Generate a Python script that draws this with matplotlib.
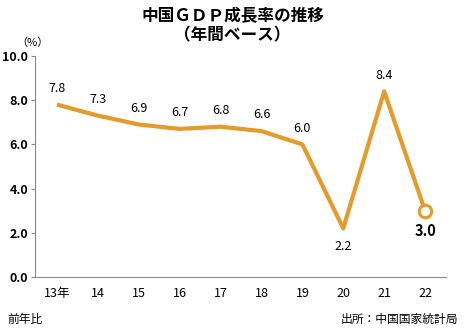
import matplotlib
matplotlib.use("Agg")
import matplotlib.pyplot as plt

plt.rcParams['font.family'] = ['Noto Sans CJK JP', 'DejaVu Sans']

years = ["13年", "14", "15", "16", "17", "18", "19", "20", "21", "22"]
growth = [7.8, 7.3, 6.9, 6.7, 6.8, 6.6, 6.0, 2.2, 8.4, 3.0]
label_below = [False, False, False, False, False, False, False, True, False, True]
yticks = [0.0, 2.0, 4.0, 6.0, 8.0, 10.0]

color = "#E59A2A"

fig = plt.figure(figsize=(4.65, 3.31), dpi=100)
ax = fig.add_axes([0.075, 0.163, 0.884, 0.668])

x = list(range(len(years)))
ax.plot(x, growth, color=color, linewidth=3.0, solid_capstyle="butt", zorder=2)
ax.plot(x[-1], growth[-1], "o", markersize=9, markerfacecolor="white",
        markeredgecolor=color, markeredgewidth=2.2, zorder=3)

for i, v in enumerate(growth):
    if i == len(growth) - 1:
        ax.annotate(f"{v:.1f}", (i, v), xytext=(0, -9), textcoords="offset points",
                    ha="center", va="top", fontsize=10.5, fontweight="bold")
    elif label_below[i]:
        ax.annotate(f"{v:.1f}", (i, v), xytext=(0, -8), textcoords="offset points",
                    ha="center", va="top", fontsize=9)
    else:
        ax.annotate(f"{v:.1f}", (i, v), xytext=(0, 7), textcoords="offset points",
                    ha="center", va="bottom", fontsize=9)

ax.set_xlim(-0.54, 9.51)
ax.set_ylim(0, 10)
ax.set_xticks(x)
ax.set_xticklabels(years, fontsize=9)
ax.set_yticks(yticks)
ax.set_yticklabels([f"{t:.1f}" for t in yticks], fontsize=9, fontweight="bold")
ax.tick_params(axis="y", length=3, color="#888888", pad=2)
ax.tick_params(axis="x", length=0, pad=7)

for s in ["top", "right"]:
    ax.spines[s].set_visible(False)
for s in ["left", "bottom"]:
    ax.spines[s].set_color("#888888")
    ax.spines[s].set_linewidth(0.8)

fig.text(0.5, 0.952, "中国ＧＤＰ成長率の推移", ha="center", va="center",
         fontsize=12, fontweight="bold")
fig.text(0.5, 0.892, "（年間ベース）", ha="center", va="center",
         fontsize=12, fontweight="bold")
fig.text(0.035, 0.87, "（%）", ha="left", va="center", fontsize=8)
fig.text(0.015, 0.035, "前年比", ha="left", va="center", fontsize=8.5)
fig.text(0.985, 0.035, "出所：中国国家統計局", ha="right", va="center", fontsize=8.5)

fig.savefig("out.png", dpi=100)
